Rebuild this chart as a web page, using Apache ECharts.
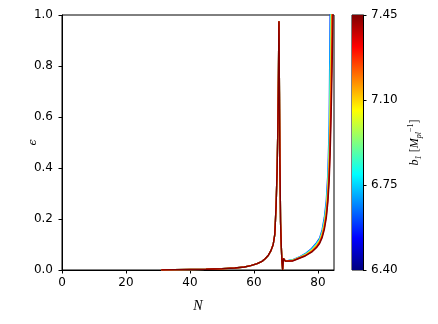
<!DOCTYPE html>
<html>
<head>
<meta charset="utf-8">
<script src="https://cdn.jsdelivr.net/npm/echarts@6/dist/echarts.min.js"></script>
<style>
  html, body { margin: 0; padding: 0; background: #fff; }
  #chart { width: 438px; height: 324px; }
</style>
</head>
<body>
<div id="chart"></div>
<script>
// b1 values of each run and their jet colours
const bValues = [6.60, 6.80, 7.00, 7.15, 7.30, 7.45]
const lineColors = ['#0042ff', '#05fffa', '#c7ff38', '#ffa800', '#ff1000', '#800000']

// common part of all curves (N, epsilon)
const sharedN = [31, 35, 40, 45, 50, 54, 57, 59, 61, 62.5, 63.5, 64.5, 65.3, 66, 66.5, 66.9, 67.2, 67.45, 67.65, 67.8, 67.95, 68.1, 68.3, 68.5, 68.75, 68.95, 69.2, 69.45, 69.8, 70.3]
const sharedEps = [0, 0.001, 0.002, 0.003, 0.005, 0.008, 0.012, 0.017, 0.025, 0.034, 0.044, 0.058, 0.076, 0.1, 0.14, 0.25, 0.38, 0.55, 0.78, 0.975, 0.7, 0.42, 0.19, 0.1, 0.03, 0.0, 0.045, 0.05, 0.035, 0.03]

// end of inflation, one tail per b1
const tailN = [72, 74, 76, 78, 79.5, 80.5, 81.3, 82, 82.6, 83.1, 83.5, 83.8, 84.1, 84.4, 84.7, 85.0]
const tailEps = [
  [0.04, 0.05, 0.064, 0.084, 0.106, 0.125, 0.158, 0.207, 0.272, 0.38, 0.57, 1.02, 1.6, 2.4, 3.5, 5],
  [0.039, 0.049, 0.062, 0.081, 0.102, 0.12, 0.15, 0.195, 0.255, 0.35, 0.5, 0.8, 1.15, 1.8, 2.8, 4],
  [0.038, 0.048, 0.06, 0.078, 0.098, 0.116, 0.144, 0.186, 0.24, 0.325, 0.45, 0.65, 0.95, 1.4, 2.2, 3.2],
  [0.037, 0.047, 0.058, 0.075, 0.094, 0.112, 0.138, 0.177, 0.228, 0.305, 0.41, 0.57, 0.8, 1.12, 1.7, 2.6],
  [0.036, 0.046, 0.056, 0.072, 0.09, 0.108, 0.132, 0.168, 0.215, 0.285, 0.38, 0.5, 0.68, 0.93, 1.3, 2],
  [0.035, 0.045, 0.055, 0.07, 0.087, 0.104, 0.127, 0.16, 0.204, 0.268, 0.35, 0.455, 0.6, 0.78, 1.0, 1.35]
]

const xTicks = [0, 20, 40, 60, 80]
const cbTickLabels = ['6.40', '6.75', '7.10', '7.45']

const chart = echarts.init(document.getElementById('chart'))

const lineSeries = bValues.map((b, k) => ({
  name: 'b1 = ' + b,
  type: 'line',
  xAxisIndex: 0,
  yAxisIndex: 0,
  showSymbol: false,
  clip: true,
  lineStyle: { width: 1.4, color: lineColors[k] },
  itemStyle: { color: lineColors[k] },
  data: sharedN.map((n, i) => [n, sharedEps[i]]).concat(tailN.map((n, i) => [n, tailEps[k][i]]))
}))

const tickFont = { fontFamily: 'DejaVu Sans', fontSize: 12, color: '#000' }

const option = {
  animation: false,
  grid: [
    { left: 62, top: 15, width: 272, height: 255, show: true, borderColor: '#000', borderWidth: 1 },
    { left: 352, top: 15, width: 11, height: 255, show: true, borderColor: '#000', borderWidth: 1 }
  ],
  xAxis: [
    {
      gridIndex: 0,
      type: 'value',
      min: 0,
      max: 85,
      name: 'N',
      nameLocation: 'middle',
      nameGap: 29,
      nameMoveOverlap: false,
      nameTextStyle: { fontFamily: 'Liberation Serif', fontStyle: 'italic', fontSize: 14, color: '#000' },
      axisLine: { show: true, lineStyle: { color: '#000', width: 1 } },
      axisTick: { show: true, inside: false, length: 3.5, lineStyle: { color: '#000' }, customValues: xTicks },
      axisLabel: Object.assign({ margin: 7, customValues: xTicks }, tickFont),
      splitLine: { show: false }
    },
    {
      gridIndex: 1,
      type: 'category',
      data: [''],
      show: false
    }
  ],
  yAxis: [
    {
      gridIndex: 0,
      type: 'value',
      min: 0,
      max: 1,
      interval: 0.2,
      name: 'ϵ',
      nameLocation: 'middle',
      nameGap: 23,
      nameRotate: 90,
      nameMoveOverlap: false,
      nameTextStyle: { fontFamily: 'DejaVu Serif', fontStyle: 'italic', fontSize: 11, color: '#000' },
      axisLine: { show: true, lineStyle: { color: '#000', width: 1 } },
      axisTick: { show: true, inside: false, length: 3.5, lineStyle: { color: '#000' } },
      axisLabel: Object.assign({ margin: 9, formatter: v => v.toFixed(1) }, tickFont),
      splitLine: { show: false }
    },
    {
      gridIndex: 1,
      type: 'value',
      position: 'right',
      min: 0,
      max: 3,
      interval: 1,
      name: '{i|b}{sub|1} {r|[}{i|M}{sub|pl}{sup|−1}{r|]}',
      nameLocation: 'middle',
      nameRotate: 90,
      nameGap: 44,
      nameMoveOverlap: false,
      nameTextStyle: {
        rich: {
          i: { fontFamily: 'Liberation Serif', fontStyle: 'italic', fontSize: 12, lineHeight: 16, color: '#000' },
          r: { fontFamily: 'Liberation Serif', fontSize: 12, lineHeight: 16, color: '#000' },
          sub: { fontFamily: 'Liberation Serif', fontStyle: 'italic', fontSize: 8, lineHeight: 8, verticalAlign: 'bottom', color: '#000' },
          sup: { fontFamily: 'Liberation Serif', fontSize: 8, lineHeight: 8, verticalAlign: 'top', color: '#000' }
        }
      },
      axisLine: { show: true, lineStyle: { color: '#000', width: 1 } },
      axisTick: { show: true, inside: false, length: 3.5, lineStyle: { color: '#000' } },
      axisLabel: Object.assign({ margin: 8, formatter: v => cbTickLabels[v] }, tickFont),
      splitLine: { show: false }
    }
  ],
  series: lineSeries.concat([
    {
      type: 'bar',
      xAxisIndex: 1,
      yAxisIndex: 1,
      barWidth: '100%',
      silent: true,
      data: [3],
      itemStyle: {
        color: new echarts.graphic.LinearGradient(0, 0, 0, 1, [
          { offset: 0, color: '#7f0000' },
          { offset: 0.125, color: '#ff0000' },
          { offset: 0.375, color: '#ffff00' },
          { offset: 0.625, color: '#00ffff' },
          { offset: 0.875, color: '#0000ff' },
          { offset: 1, color: '#00007f' }
        ])
      }
    }
  ])
}

chart.setOption(option)
</script>
</body>
</html>
